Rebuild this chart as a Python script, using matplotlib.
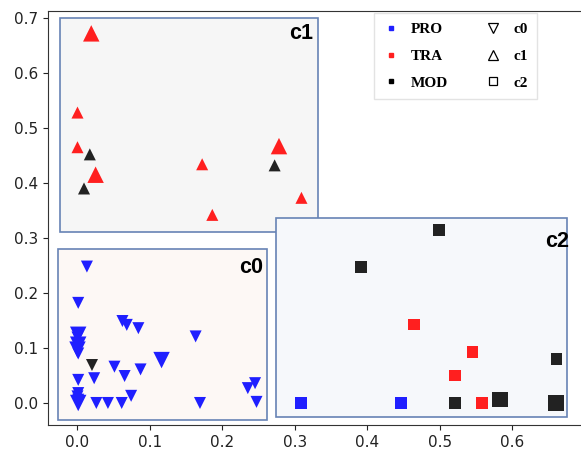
import matplotlib
matplotlib.use("Agg")
import matplotlib.pyplot as plt
from matplotlib.patches import Rectangle
from matplotlib.lines import Line2D

BLUE = "#1f1fff"
RED = "#ff1f1f"
BLACK = "#222222"

# cluster c0 (triangle down)
c0_x = [0.013, 0.001, 0.062, 0.068, 0.084, 0.001, 0.0, 0.001, 0.0, 0.001, 0.163, 0.116,
        0.020, 0.051, 0.087, 0.001, 0.023, 0.065, 0.235, 0.245, 0.074, 0.001, 0.0, 0.001,
        0.001, 0.026, 0.042, 0.061, 0.169, 0.247]
c0_y = [0.248, 0.182, 0.149, 0.142, 0.136, 0.124, 0.119, 0.106, 0.097, 0.090, 0.121, 0.078,
        0.069, 0.066, 0.061, 0.042, 0.045, 0.049, 0.027, 0.036, 0.013, 0.018, 0.012, 0.006,
        0.0, 0.0, 0.0, 0.0, 0.0, 0.002]
c0_cls = ["PRO"] * 12 + ["MOD"] + ["PRO"] * 17
c0_big = [0, 0, 0, 0, 0, 1, 0, 1, 1, 0, 0, 1, 0, 0, 0, 0, 0, 0, 0, 0, 0, 0, 0, 0, 1, 0, 0, 0, 0, 0]

# cluster c1 (triangle up)
c1_x = [0.019, 0.0, 0.0, 0.017, 0.025, 0.009, 0.172, 0.278, 0.272, 0.309, 0.186]
c1_y = [0.672, 0.528, 0.465, 0.452, 0.415, 0.390, 0.434, 0.467, 0.432, 0.373, 0.342]
c1_cls = ["TRA", "TRA", "TRA", "MOD", "TRA", "MOD", "TRA", "TRA", "MOD", "TRA", "TRA"]
c1_big = [1, 0, 0, 0, 1, 0, 0, 1, 0, 0, 0]

# cluster c2 (square)
c2_x = [0.499, 0.391, 0.464, 0.545, 0.521, 0.661, 0.308, 0.446, 0.521, 0.558, 0.583, 0.660]
c2_y = [0.314, 0.247, 0.143, 0.093, 0.050, 0.080, 0.0, 0.0, 0.0, 0.0, 0.006, 0.0]
c2_cls = ["MOD", "MOD", "TRA", "TRA", "TRA", "MOD", "PRO", "PRO", "MOD", "TRA", "MOD", "MOD"]
c2_big = [0, 0, 0, 0, 0, 0, 0, 0, 0, 0, 1, 1]

colors = {"PRO": BLUE, "TRA": RED, "MOD": BLACK}

fig = plt.figure(figsize=(5.81, 4.50), dpi=100)
ax = fig.add_axes([0.0826, 0.0556, 0.9365, 0.9189])
ax.set_xlim(-0.0407, 0.71)
ax.set_ylim(-0.04, 0.7118)

# cluster boxes
box_edge = "#6783b5"
ax.add_patch(Rectangle((-0.024, 0.311), 0.356, 0.389, facecolor="#f6f6f6", edgecolor=box_edge, lw=1.2, zorder=1))
ax.add_patch(Rectangle((-0.0266, -0.031), 0.2876, 0.311, facecolor="#fdf8f5", edgecolor=box_edge, lw=1.2, zorder=1))
ax.add_patch(Rectangle((0.274, -0.026), 0.402, 0.362, facecolor="#f6f8fb", edgecolor=box_edge, lw=1.2, zorder=1))

for xs, ys, cls, big, m, s_small, s_big in [
    (c0_x, c0_y, c0_cls, c0_big, "v", 75, 140),
    (c1_x, c1_y, c1_cls, c1_big, "^", 75, 140),
    (c2_x, c2_y, c2_cls, c2_big, "s", 70, 125),
]:
    ax.scatter(xs, ys, marker=m, c=[colors[c] for c in cls],
               s=[s_big if b else s_small for b in big], edgecolors="none", zorder=3)

lab_font = dict(family="Liberation Sans", fontweight="bold", fontsize=15.5, ha="right", va="top", zorder=4)
ax.text(0.325, 0.691, "c1", **lab_font)
ax.text(0.256, 0.266, "c0", **lab_font)
ax.text(0.678, 0.312, "c2", **lab_font)

handles = [
    Line2D([], [], ls="", marker="s", ms=3.4, color=BLUE, label="PRO"),
    Line2D([], [], ls="", marker="s", ms=3.4, color=RED, label="TRA"),
    Line2D([], [], ls="", marker="s", ms=3.4, color="black", label="MOD"),
    Line2D([], [], ls="", marker="v", ms=6.5, mfc="white", mec="black", mew=0.9, label="c0"),
    Line2D([], [], ls="", marker="^", ms=6.5, mfc="white", mec="black", mew=0.9, label="c1"),
    Line2D([], [], ls="", marker="s", ms=5.6, mfc="white", mec="black", mew=0.9, label="c2"),
]
ax.legend(handles=handles, ncol=2, loc="upper left",
          bbox_to_anchor=(374 / 581, 1 - 13 / 450), bbox_transform=fig.transFigure,
          borderaxespad=0,
          prop=dict(family="Liberation Serif", weight="bold", size=11),
          frameon=True, fancybox=False, edgecolor="#dddddd", borderpad=0.62,
          labelspacing=0.85, columnspacing=2.45, handlelength=1.0, handletextpad=0.8)

for sp in ax.spines.values():
    sp.set_color("#333333")
ax.spines["right"].set_visible(False)
ax.tick_params(labelsize=11, colors="#222222")
ax.set_xticks([0.0, 0.1, 0.2, 0.3, 0.4, 0.5, 0.6])
ax.set_yticks([0.0, 0.1, 0.2, 0.3, 0.4, 0.5, 0.6, 0.7])

plt.savefig("out.png", dpi=100)
